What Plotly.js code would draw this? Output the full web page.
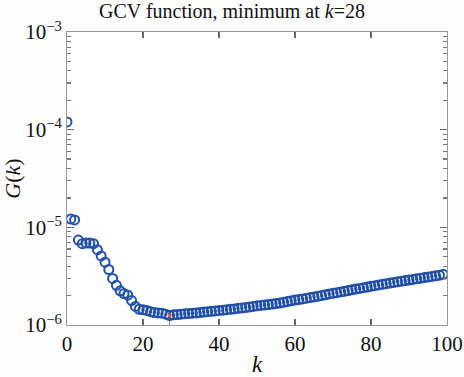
<!DOCTYPE html>
<html>
<head>
<meta charset="utf-8">
<script src="https://cdn.plot.ly/plotly-3.0.1.min.js"></script>
<style>html,body{margin:0;padding:0;background:#fdfdfd;}</style>
</head>
<body>
<div id="chart" style="width:464px;height:377px;"></div>
<script>
// k index (positions as drawn)
const kValues = Array.from({length: 100}, (_, i) => i);
// GCV function values G(k)
const gcvValues = [
  1.2e-4, 1.22e-5, 1.19e-5, 7.4e-6, 6.8e-6, 6.9e-6, 6.9e-6, 6.8e-6, 5.9e-6, 5.1e-6,
  4.4e-6, 3.7e-6, 3.0e-6, 2.55e-6, 2.24e-6, 2.1e-6, 2.02e-6, 1.78e-6, 1.55e-6, 1.45e-6,
  1.43e-6, 1.41e-6, 1.37e-6, 1.34e-6, 1.33e-6, 1.32e-6, 1.29e-6, 1.25e-6, 1.27e-6, 1.28e-6,
  1.29e-6, 1.30e-6, 1.31e-6, 1.32e-6, 1.33e-6, 1.34e-6, 1.355e-6, 1.37e-6, 1.38e-6, 1.395e-6,
  1.41e-6, 1.42e-6, 1.435e-6, 1.45e-6, 1.46e-6, 1.48e-6, 1.495e-6, 1.51e-6, 1.53e-6, 1.55e-6,
  1.57e-6, 1.585e-6, 1.60e-6, 1.62e-6, 1.64e-6, 1.66e-6, 1.68e-6, 1.71e-6, 1.74e-6, 1.77e-6,
  1.80e-6, 1.82e-6, 1.85e-6, 1.88e-6, 1.91e-6, 1.94e-6, 1.97e-6, 2.00e-6, 2.04e-6, 2.08e-6,
  2.11e-6, 2.14e-6, 2.18e-6, 2.21e-6, 2.25e-6, 2.29e-6, 2.33e-6, 2.37e-6, 2.41e-6, 2.45e-6,
  2.49e-6, 2.53e-6, 2.57e-6, 2.61e-6, 2.65e-6, 2.69e-6, 2.73e-6, 2.77e-6, 2.81e-6, 2.85e-6,
  2.89e-6, 2.93e-6, 2.97e-6, 3.01e-6, 3.06e-6, 3.10e-6, 3.14e-6, 3.19e-6, 3.24e-6, 3.30e-6
];
const xTickVals = [0, 20, 40, 60, 80, 100];
const yTickVals = [1e-6, 1e-5, 1e-4, 1e-3];
const yTickText = ['10<sup>−6</sup>', '10<sup>−5</sup>', '10<sup>−4</sup>', '10<sup>−3</sup>'];
const titleText = 'GCV function, minimum at <i>k</i>=28';

let minIdx = 0;
gcvValues.forEach((v, i) => { if (v < gcvValues[minIdx]) minIdx = i; });

// minor ticks 2..9 within each decade
const yMinorVals = [];
yTickVals.slice(0, -1).forEach(d => { for (let m = 2; m <= 9; m++) yMinorVals.push(d * m); });

const serif = 'Liberation Serif';
const blue = '#2150a8';

const traces = [
  {
    x: [kValues[minIdx], kValues[minIdx]],
    y: [gcvValues[minIdx], yTickVals[0]],
    mode: 'lines',
    line: {color: '#e06060', width: 1},
    hoverinfo: 'skip',
    showlegend: false
  },
  {
    x: kValues,
    y: gcvValues,
    mode: 'markers',
    marker: {symbol: 'circle-open', size: 9, color: blue, line: {width: 2, color: blue}},
    showlegend: false
  },
  {
    x: [kValues[minIdx]],
    y: [gcvValues[minIdx]],
    mode: 'markers',
    marker: {symbol: 'circle', size: 4, color: '#e06060'},
    showlegend: false
  },
  {
    x: [kValues[0]], y: [gcvValues[0]], yaxis: 'y2',
    mode: 'markers', marker: {opacity: 0}, hoverinfo: 'skip', showlegend: false
  }
];

const layout = {
  width: 464, height: 377,
  margin: {l: 67, r: 17, t: 32, b: 52},
  paper_bgcolor: '#fdfdfd',
  plot_bgcolor: '#ffffff',
  font: {family: serif, size: 19, color: '#111'},
  title: {text: titleText, x: 0.5, xanchor: 'center', y: 0.99, yanchor: 'top', font: {family: serif, size: 20, color: '#111'}},
  xaxis: {
    range: [0, 100],
    tickvals: xTickVals,
    ticks: 'inside', ticklen: 6, tickwidth: 1.2, tickcolor: '#666',
    showline: true, linecolor: '#999', linewidth: 1, mirror: 'ticks',
    showgrid: false, zeroline: false,
    tickfont: {family: serif, size: 21},
    title: {text: '<i>k</i>', font: {family: serif, size: 23}, standoff: 0}
  },
  yaxis: {
    type: 'log',
    range: [-6, -3],
    tickvals: yTickVals, ticktext: yTickText,
    ticks: 'inside', ticklen: 7, tickwidth: 1.2, tickcolor: '#666',
    showline: true, linecolor: '#999', linewidth: 1, mirror: 'ticks',
    showgrid: false, zeroline: false,
    tickfont: {family: serif, size: 21},
    title: {text: '<i>G</i>(<i>k</i>)', font: {family: serif, size: 22}, standoff: 6}
  },
  yaxis2: {
    type: 'log',
    range: [-6, -3],
    overlaying: 'y',
    anchor: 'x',
    side: 'left',
    tickmode: 'array',
    tickvals: yMinorVals,
    showticklabels: false,
    ticks: 'inside', ticklen: 4, tickwidth: 1.2, tickcolor: '#777',
    showline: true, linecolor: '#999', mirror: 'ticks',
    showgrid: false, zeroline: false
  }
};

Plotly.newPlot('chart', traces, layout, {displayModeBar: false, staticPlot: true});
</script>
</body>
</html>
